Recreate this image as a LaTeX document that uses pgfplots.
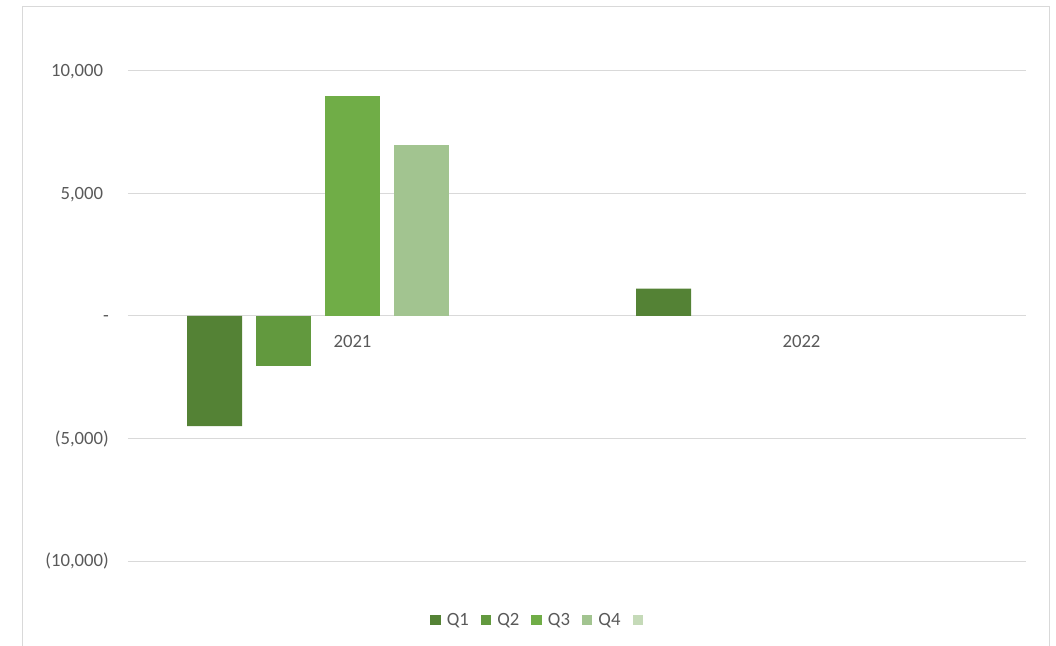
\documentclass[border=0pt]{standalone}
\usepackage{pgfplots}
\pgfplotsset{compat=1.18}
\usepackage{fontspec}
\setmainfont{Carlito}

\definecolor{qone}{HTML}{548235}
\definecolor{qtwo}{HTML}{62993E}
\definecolor{qthree}{HTML}{70AD47}
\definecolor{qfour}{HTML}{A2C490}
\definecolor{qfive}{HTML}{C5DAB8}
\definecolor{gridgray}{HTML}{D9D9D9}
\definecolor{textgray}{HTML}{595959}

\begin{document}
\begin{tikzpicture}
  \begin{axis}[
      at={(0pt,0pt)}, anchor=south west,
      scale only axis,
      width=898pt, height=490pt,
      ybar=14pt, bar width=55pt,
      xmin=0.5, xmax=2.5,
      ymin=-10000, ymax=10000,
      xtick={1,2}, xticklabels={2021,2022},
      ytick={-10000,-5000,0,5000,10000},
      scaled y ticks=false,
      yticklabels={{(10,000)},{(5,000)},{-\hspace{12pt}},{5,000\phantom{)}},{10,000\phantom{)}}},
      axis x line*=middle,
      axis y line*=left,
      x axis line style={draw=gridgray, line width=1pt},
      y axis line style={draw=none},
      major tick length=0pt,
      ymajorgrids,
      grid style={draw=gridgray, line width=1pt},
      font=\fontsize{18.7}{22}\selectfont,
      ticklabel style={text=textgray, inner sep=0pt},
      x tick label style={anchor=north, yshift=-19pt},
      y tick label style={anchor=base east, xshift=-19pt, yshift=-5.9pt},
      legend columns=5,
      legend style={at={(rel axis cs:0.459,-0.1204)}, anchor=center,
        draw=none, fill=none, text=textgray,
        font=\fontsize{18.7}{22}\selectfont,
        nodes={inner sep=0pt},
        /tikz/every odd column/.append style={column sep=6pt},
        /tikz/every even column/.append style={column sep=12pt}},
      legend image code/.code={\fill[#1] (0pt,-5.25pt) rectangle (10.5pt,5.25pt);},
    ]
    \addplot[fill=qone, draw=none] coordinates {(1,-4490) (2,1120)};
    \addlegendentry{Q1}
    \addplot[fill=qtwo, draw=none] coordinates {(1,-2060)};
    \addlegendentry{Q2}
    \addplot[fill=qthree, draw=none] coordinates {(1,8970)};
    \addlegendentry{Q3}
    \addplot[fill=qfour, draw=none] coordinates {(1,6970)};
    \addlegendentry{Q4}
    % fifth series is blank in the chart: only its key shows
    \addplot[fill=none, draw=none,
      legend image code/.code={\fill[qfive] (0pt,-5.25pt) rectangle (10.5pt,5.25pt);}]
      coordinates {(1,0)};
    \addlegendentry{\mbox{}}
  \end{axis}
  \draw[gridgray, line width=1pt] (-105pt,-90pt) -- (-105pt,554pt) -- (921pt,554pt) -- (921pt,-90pt);
  \pgfresetboundingbox
  \useasboundingbox (-128pt,-84pt) rectangle (928pt,561pt);
\end{tikzpicture}
\end{document}
